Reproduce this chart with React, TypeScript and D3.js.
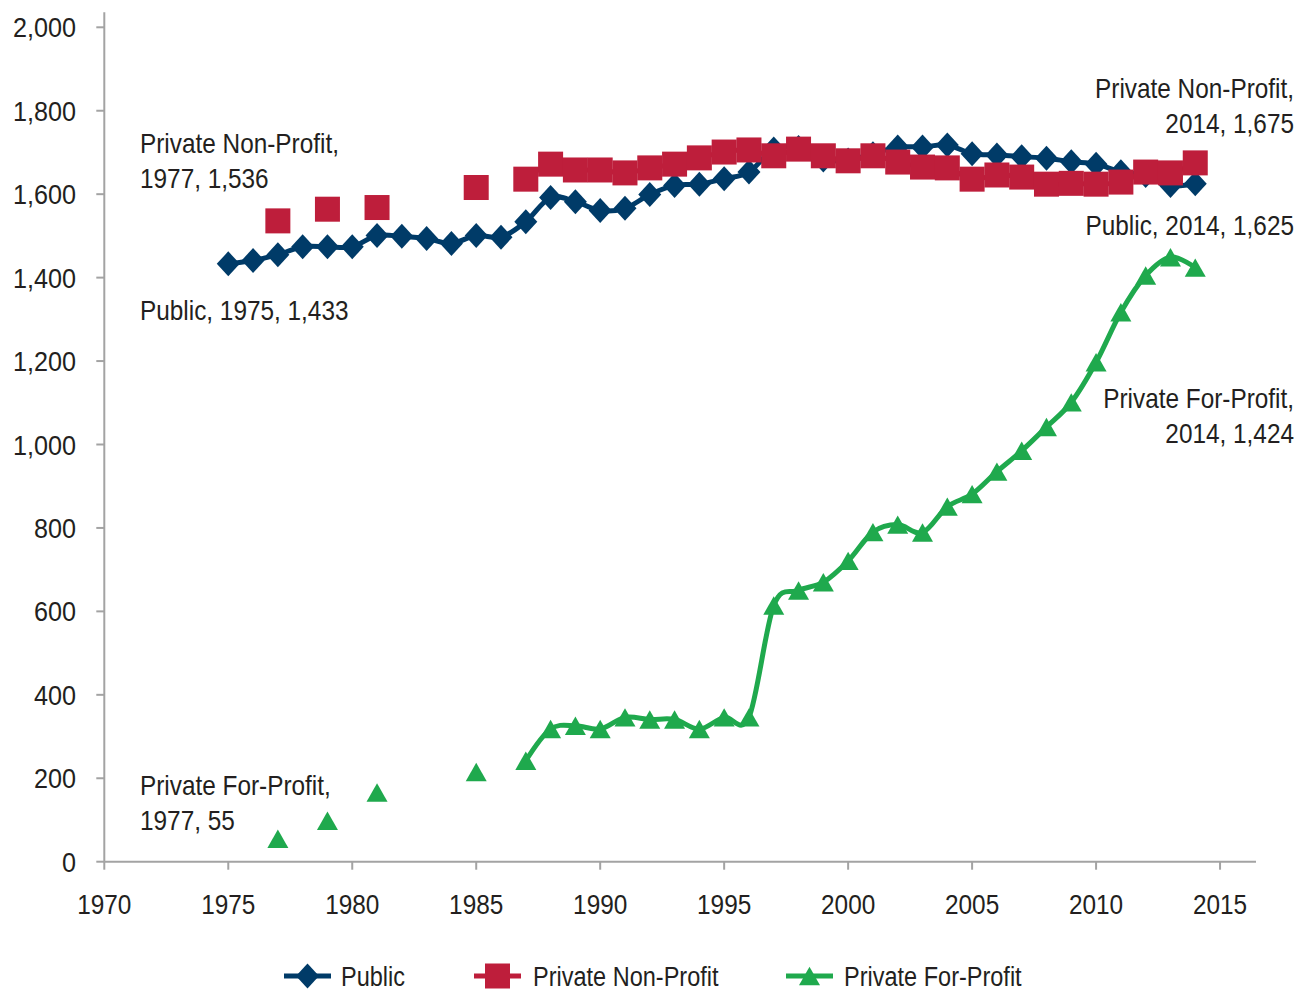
import React from "react";
import * as d3 from "d3";

const years = [1975,1976,1977,1978,1979,1980,1981,1982,1983,1984,1985,1986,1987,1988,1989,1990,1991,1992,1993,1994,1995,1996,1997,1998,1999,2000,2001,2002,2003,2004,2005,2006,2007,2008,2009,2010,2011,2012,2013,2014];

const publicVals: (number | null)[] = [1433,1441,1455,1474,1474,1474,1501,1499,1494,1482,1501,1497,1534,1592,1582,1561,1566,1599,1621,1624,1637,1653,1708,1712,1682,1682,1697,1713,1713,1718,1697,1694,1690,1686,1678,1672,1654,1645,1621,1625];

const nonProfitVals: (number | null)[] = [null,null,1536,null,1564,null,1568,null,null,null,1616,null,1636,1672,1658,1658,1651,1663,1672,1687,1701,1706,1692,1708,1692,1680,1692,1677,1665,1663,1636,1646,1641,1624,1626,1624,1629,1653,1651,1675];

const forProfitVals: (number | null)[] = [null,null,55,null,98,null,166,null,null,null,215,null,242,318,326,318,346,341,341,318,346,346,614,650,670,721,790,808,789,851,881,935,985,1042,1101,1197,1317,1405,1449,1424];

const xTicks = [1970,1975,1980,1985,1990,1995,2000,2005,2010,2015];
const yTicks = [0,200,400,600,800,1000,1200,1400,1600,1800,2000];

const seriesNames = ["Public", "Private Non-Profit", "Private For-Profit"];
const colors = ["#003b68", "#be1e3b", "#1fa94d"];

const annotations = [
  { lines: ["Private Non-Profit,", "1977, 1,536"], anchor: "start", x: 140, y: 153 },
  { lines: ["Public, 1975, 1,433"], anchor: "start", x: 140, y: 320 },
  { lines: ["Private For-Profit,", "1977, 55"], anchor: "start", x: 140, y: 795 },
  { lines: ["Private Non-Profit,", "2014, 1,675"], anchor: "end", x: 1294, y: 98 },
  { lines: ["Public, 2014, 1,625"], anchor: "end", x: 1294, y: 235 },
  { lines: ["Private For-Profit,", "2014, 1,424"], anchor: "end", x: 1294, y: 408 },
];

const FONT = "'Liberation Sans', Arial, Helvetica, sans-serif";
const TEXT_COLOR = "#231f20";

function T({ x, y, anchor = "start", children, size = 28, sx = 0.87 }: any) {
  return (
    <g transform={`translate(${x},${y}) scale(${sx},1)`}>
      <text textAnchor={anchor} fontFamily={FONT} fontSize={size} fill={TEXT_COLOR}>
        {children}
      </text>
    </g>
  );
}

function Marker({ kind, x, y, color }: { kind: number; x: number; y: number; color: string }) {
  if (kind === 0) {
    const w = 11.5, h = 12.5;
    return <path d={`M${x},${y - h}L${x + w},${y}L${x},${y + h}L${x - w},${y}Z`} fill={color} />;
  }
  if (kind === 1) {
    const s = 12.5;
    return <rect x={x - s} y={y - s} width={2 * s} height={2 * s} fill={color} />;
  }
  const w = 10.5, h = 9.2;
  return <path d={`M${x},${y - h}L${x + w},${y + h}L${x - w},${y + h}Z`} fill={color} />;
}

export default function App() {
  const x = d3.scaleLinear().domain([1970, 2016.45]).range([104.3, 1256]);
  const y = d3.scaleLinear().domain([0, 2000]).range([861.7, 27.3]);
  const allSeries = [publicVals, nonProfitVals, forProfitVals];

  const line = d3
    .line<number | null>()
    .defined((d) => d != null)
    .x((_, i) => x(years[i]))
    .y((d) => y(d as number))
    .curve(d3.curveCatmullRom.alpha(0));

  const axisColor = "#a3a3a3";
  const legendItems = [
    { x0: 284, tx: 341 },
    { x0: 474, tx: 533 },
    { x0: 786, tx: 844 },
  ];

  return (
    <svg width={1309} height={994} style={{ position: "absolute", left: 0, top: 0, background: "#fff" }}>
      {/* axes */}
      <line x1={x(1970)} x2={x(1970)} y1={y(2036)} y2={y(0)} stroke={axisColor} strokeWidth={2} />
      <line x1={x(1970)} x2={x(2016.45)} y1={y(0)} y2={y(0)} stroke={axisColor} strokeWidth={2} />
      {yTicks.map((t) => (
        <g key={"y" + t}>
          <line x1={x(1970) - 8} x2={x(1970)} y1={y(t)} y2={y(t)} stroke={axisColor} strokeWidth={2} />
          <T x={76} y={y(t) + 10} anchor="end" sx={0.9}>{d3.format(",")(t)}</T>
        </g>
      ))}
      {xTicks.map((t) => (
        <g key={"x" + t}>
          <line x1={x(t)} x2={x(t)} y1={y(0)} y2={y(0) + 8} stroke={axisColor} strokeWidth={2} />
          <T x={x(t)} y={914} anchor="middle">{String(t)}</T>
        </g>
      ))}

      {/* series */}
      {allSeries.map((vals, si) => (
        <g key={"s" + si}>
          <path d={line(vals) || ""} fill="none" stroke={colors[si]} strokeWidth={5} />
          {vals.map((v, i) =>
            v == null ? null : <Marker key={i} kind={si} x={x(years[i])} y={y(v)} color={colors[si]} />
          )}
        </g>
      ))}

      {/* annotations */}
      {annotations.map((a, ai) => (
        <g key={"a" + ai}>
          {a.lines.map((l, li) => (
            <T key={li} x={a.x} y={a.y + li * 35} anchor={a.anchor}>{l}</T>
          ))}
        </g>
      ))}

      {/* legend */}
      {legendItems.map((it, i) => (
        <g key={"l" + i}>
          <line x1={it.x0} x2={it.x0 + 47} y1={976} y2={976} stroke={colors[i]} strokeWidth={5} />
          <Marker kind={i} x={it.x0 + 23.5} y={976} color={colors[i]} />
          <T x={it.tx} y={986} sx={0.84}>{seriesNames[i]}</T>
        </g>
      ))}
    </svg>
  );
}
